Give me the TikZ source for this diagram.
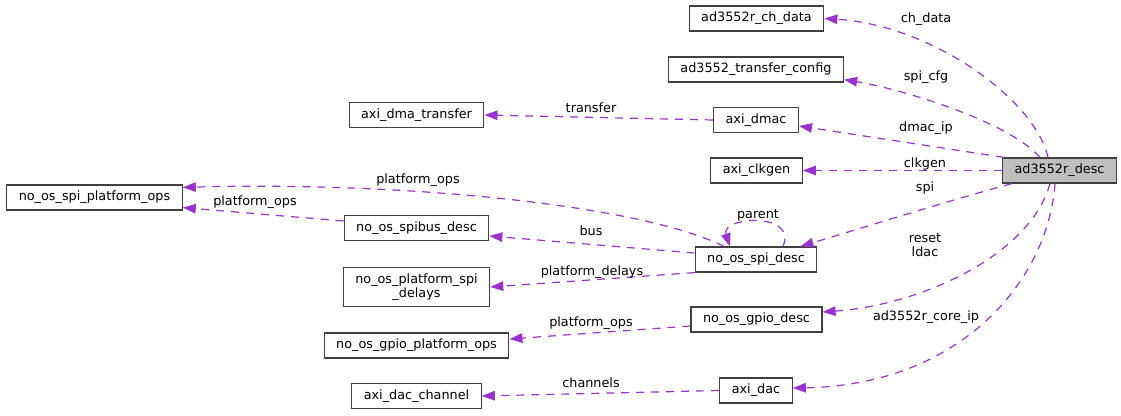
\documentclass[tikz,border=0pt]{standalone}
\usepackage{fontspec}
\setmainfont{DejaVu Sans}
\usetikzlibrary{arrows.meta}
\definecolor{edgepurple}{HTML}{9A32CD}
\definecolor{boxgray}{HTML}{404040}
\definecolor{descfill}{HTML}{BFBFBF}
\begin{document}
\begin{tikzpicture}[x = 1pt, y = -1pt, font = \fontsize{12.8}{14}\selectfont]
    \useasboundingbox (0,0) rectangle (1121,415);
    \tikzset{cls/.style = {draw = boxgray, line width = 1.2pt, inner xsep = 12pt, inner ysep = 6pt, minimum height = 25pt, align = center}}
    \tikzset{rel/.style = {draw = edgepurple, line width = 1.2pt, dash pattern = on 8pt off 7pt, -{Triangle[length = 13pt, width = 9.5pt]}}}
    \tikzset{lbl/.style = {inner sep = 0pt, anchor = base}}
    % classes
    \node[cls, fill = descfill] (desc) at (1059.5,170.5) {ad3552r\_desc};
    \node[cls] (chdata) at (756.5,18.5) {ad3552r\_ch\_data};
    \node[cls] (xfercfg) at (756,69.5) {ad3552\_transfer\_config};
    \node[cls] (dmac) at (756,120) {axi\_dmac};
    \node[cls] (clkgen) at (756.5,170.5) {axi\_clkgen};
    \node[cls] (spidesc) at (756,259.5) {no\_os\_spi\_desc};
    \node[cls] (gpiodesc) at (756.5,319.5) {no\_os\_gpio\_desc};
    \node[cls] (dac) at (756,390.5) {axi\_dac};
    \node[cls] (dmaxfer) at (416.5,115) {axi\_dma\_transfer};
    \node[cls] (spibus) at (416.5,228) {no\_os\_spibus\_desc};
    \node[cls] (spidelays) at (416.5,287) {no\_os\_platform\_spi\\\_delays};
    \node[cls] (gpioops) at (416.5,345.5) {no\_os\_gpio\_platform\_ops};
    \node[cls] (dacch) at (416.5,396) {axi\_dac\_channel};
    \node[cls] (spiops) at (94.5,197.5) {no\_os\_spi\_platform\_ops};
    % members of ad3552r_desc
    \draw[rel] ([xshift = -11.5pt]desc.north) .. controls +(-13,-58) and +(107,6.5) .. (chdata.east);
    \draw[rel] ([xshift = -19.5pt]desc.north) .. controls +(-30,-35) and +(60,10) .. ([yshift = 3pt]xfercfg.south east);
    \draw[rel] ([xshift = 2pt]desc.north west) -- ([yshift = -6pt]dmac.east);
    \draw[rel] (desc.west) -- (clkgen.east);
    \draw[rel] ([xshift = 10pt]desc.south west) .. controls +(-63,17) and +(70,-21) .. ([xshift = -17pt]spidesc.north east);
    \draw[rel] ([xshift = -9.5pt]desc.south) .. controls +(-20,72) and +(98,-7) .. ([yshift = 7.5pt]gpiodesc.east);
    \draw[rel] ([xshift = -4.5pt]desc.south) .. controls +(-7,97) and +(168,-3) .. ([yshift = 2.5pt]dac.east);
    % second level
    \draw[rel] (dmac.west) -- (dmaxfer.east);
    \draw[rel] ([xshift = -32pt]spidesc.north) .. controls +(-84,-42) and +(216,-6) .. ([yshift = -3pt]spiops.north east);
    \draw[rel] ([yshift = 6.5pt]spidesc.west) -- ([yshift = -8pt]spibus.east);
    \draw[rel] (spidesc.south west) -- (spidelays.east);
    \draw[rel] ([xshift = 27pt]spidesc.north) .. controls +(15,-35) and +(-10,-30) .. ([xshift = -26pt]spidesc.north); %self
    \draw[rel] ([yshift = 7pt]spibus.west) -- ([yshift = 3pt]spiops.south east);
    \draw[rel] ([yshift = -6.5pt]gpiodesc.west) -- ([yshift = 6.5pt]gpioops.east);
    \draw[rel] (dac.west) -- (dacch.east);
    % labels
    \node[lbl] (lchdata) at (926,23) {ch\_data};
    \node[lbl] (lspicfg) at (926,80) {spi\_cfg};
    \node[lbl] (ldmacip) at (926,131) {dmac\_ip};
    \node[lbl] (lclkgen) at (925,167) {clkgen};
    \node[lbl] (lspi) at (925,191) {spi};
    \node[lbl, align = center, anchor = center] (lresetldac) at (925,245) {reset\\ldac};
    \node[lbl] (lcoreip) at (926,320) {ad3552r\_core\_ip};
    \node[lbl] (ltransfer) at (591,112) {transfer};
    \node[lbl] (lspiops) at (418,183) {platform\_ops};
    \node[lbl] (lbusops) at (255,205) {platform\_ops};
    \node[lbl] (lparent) at (758,218) {parent};
    \node[lbl] (lbus) at (591,235) {bus};
    \node[lbl] (ldelays) at (592,275) {platform\_delays};
    \node[lbl] (lgpioops) at (591,326) {platform\_ops};
    \node[lbl] (lchannels) at (591,387) {channels};
\end{tikzpicture}
\end{document}
